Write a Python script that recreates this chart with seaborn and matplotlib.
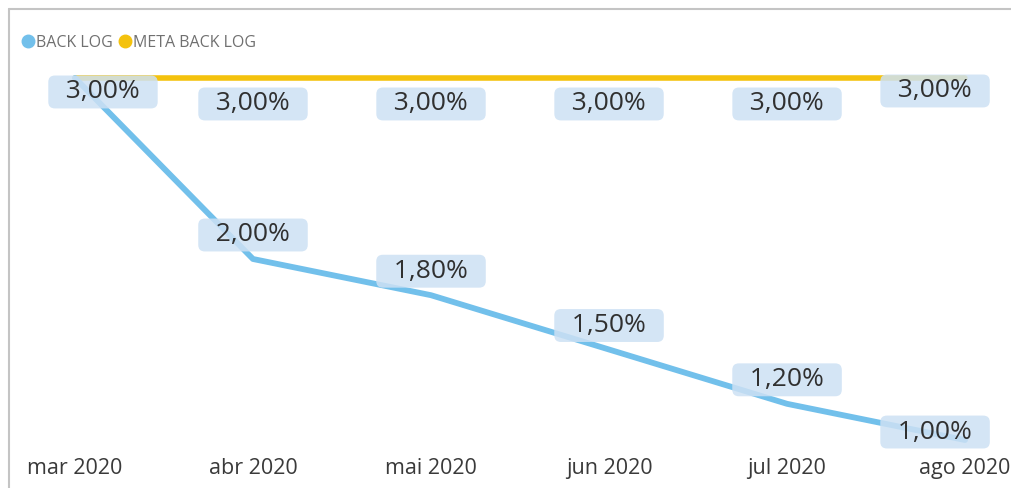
import numpy as np
import pandas as pd
import matplotlib
matplotlib.use("Agg")
import matplotlib.pyplot as plt
from matplotlib.lines import Line2D
import seaborn as sns

# data
months = ["mar 2020", "abr 2020", "mai 2020", "jun 2020", "jul 2020", "ago 2020"]
back_log = [3.00, 2.00, 1.80, 1.50, 1.20, 1.00]
meta_back_log = [3.00, 3.00, 3.00, 3.00, 3.00, 3.00]
series_names = ["BACK LOG", "META BACK LOG"]

BLUE = "#72C0EB"
YELLOW = "#F4C20D"
BOX = "#cde1f4"

sns.set_theme(style="white")
plt.rcParams["font.family"] = ["Open Sans", "DejaVu Sans"]

df = pd.DataFrame({
    "month": months * 2,
    "idx": list(range(len(months))) * 2,
    "value": back_log + meta_back_log,
    "series": [series_names[0]] * len(months) + [series_names[1]] * len(months),
})

fig = plt.figure(figsize=(10.11, 4.88), dpi=100)
ax = fig.add_axes([0.0099, 0.0779, 0.9901, 0.7992])

sns.lineplot(data=df, x="idx", y="value", hue="series",
             palette={series_names[0]: BLUE, series_names[1]: YELLOW},
             hue_order=[series_names[1], series_names[0]],
             linewidth=4, legend=False, ax=ax)
for ln in ax.get_lines():
    ln.set_solid_joinstyle("round")
    ln.set_solid_capstyle("round")
# blue line a bit thicker
ax.get_lines()[1].set_linewidth(4.2)

ax.set_xlim(-0.365, 5.258)
ax.set_ylim(0.945, 3.0994)
ax.set_xticks(range(len(months)))
ax.set_xticklabels(months, fontsize=15.5, color="#3a3a3a")
ax.tick_params(axis="x", length=0, pad=6)
ax.set_yticks([])
ax.set_xlabel("")
ax.set_ylabel("")
for s in ax.spines.values():
    s.set_visible(False)


def fmt(v):
    return f"{v:.2f}".replace(".", ",") + "%"


def label(i, v, dx, dy):
    ax.annotate(f"  {fmt(v)}  ", (i, v), xytext=(dx, -dy), textcoords="offset pixels",
                ha="center", va="center", fontsize=19, color="#303030",
                bbox=dict(boxstyle="round,pad=0.15,rounding_size=0.25",
                          fc=BOX, ec="none", alpha=0.85), zorder=5)


n = len(months)
for i, v in enumerate(meta_back_log):
    if i == 0:
        label(i, v, 28, 14)
    elif i == n - 1:
        label(i, v, -30, 13)
    else:
        label(i, v, 0, 26)
for i, v in enumerate(back_log):
    if i == 0:
        continue  # shares the label with meta at 3,00%
    elif i == n - 1:
        label(i, v, -30, -8)
    else:
        label(i, v, 0, -24)

# legend
handles = [Line2D([], [], marker="o", ls="none", color=c, markersize=9)
           for c in (BLUE, YELLOW)]
fig.legend(handles, series_names, loc="center left", bbox_to_anchor=(0.013, 0.912),
           ncol=2, frameon=False, fontsize=11.5, labelcolor="#707070",
           handletextpad=0.0, columnspacing=0.3, handlelength=1.0, borderaxespad=0)

# frame lines at top and left
fig.add_artist(Line2D([0.0089, 1.0], [0.981, 0.981], transform=fig.transFigure,
                      color="#c4c4c4", lw=1.5))
fig.add_artist(Line2D([0.0089, 0.0089], [0.0, 0.981], transform=fig.transFigure,
                      color="#c4c4c4", lw=1.5))

fig.savefig("out.png", dpi=100)
plt.close(fig)
